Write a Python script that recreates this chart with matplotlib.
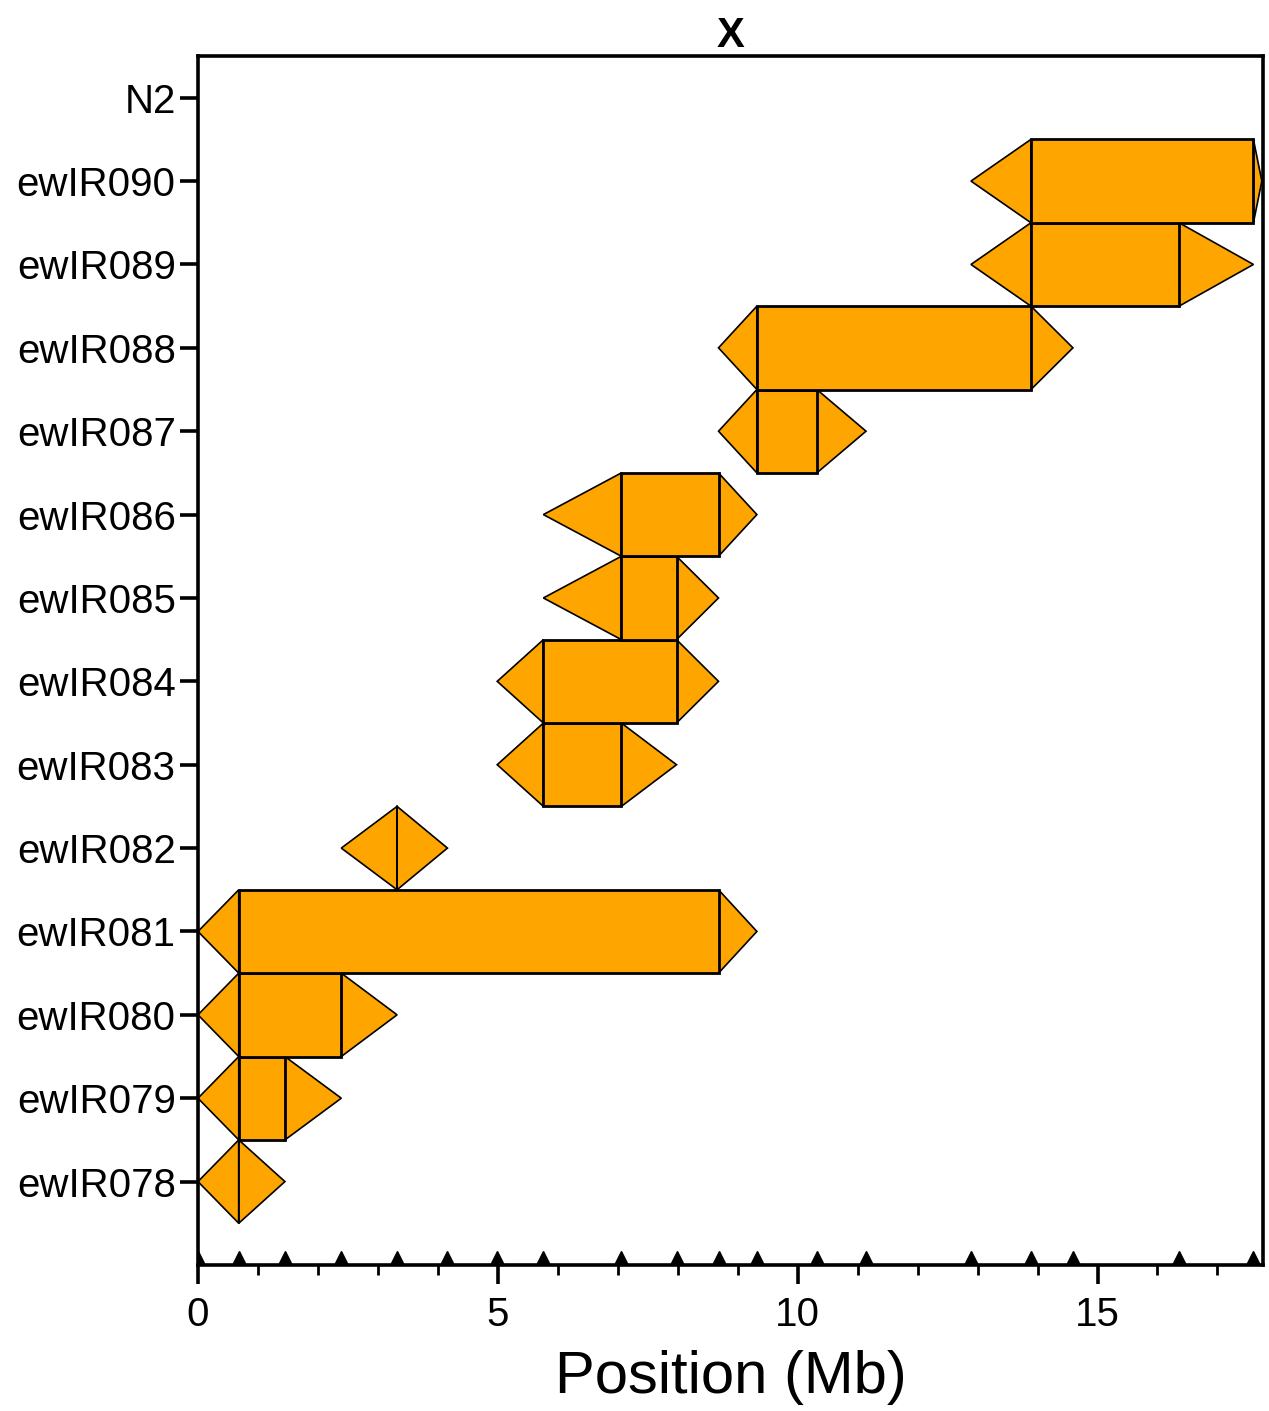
import matplotlib
matplotlib.use("Agg")
import matplotlib.pyplot as plt
from matplotlib.patches import Polygon
from matplotlib.ticker import MultipleLocator

plt.rcParams['font.family'] = ['Liberation Sans', 'DejaVu Sans']

# Introgression lines, bottom to top (N2 has no introgressed segment)
strains = ["ewIR078", "ewIR079", "ewIR080", "ewIR081", "ewIR082", "ewIR083",
           "ewIR084", "ewIR085", "ewIR086", "ewIR087", "ewIR088", "ewIR089",
           "ewIR090", "N2"]

# Segment bounds in Mb: outer-left, inner-left, inner-right, outer-right
outer_left  = [0.00, 0.00, 0.00, 0.00, 2.39, 4.99, 4.99, 5.76, 5.76, 8.68, 8.68, 12.89, 12.89, None]
inner_left  = [0.68, 0.68, 0.68, 0.68, 3.32, 5.76, 5.76, 7.06, 7.06, 9.32, 9.32, 13.89, 13.89, None]
inner_right = [0.68, 1.45, 2.39, 8.68, 3.32, 7.06, 7.98, 7.98, 8.68, 10.32, 13.89, 16.36, 17.60, None]
outer_right = [1.45, 2.39, 3.32, 9.32, 4.16, 7.98, 8.68, 8.68, 9.32, 11.14, 14.59, 17.60, 17.74, None]

# Genotyped marker positions (Mb)
markers = [0.00, 0.68, 1.45, 2.39, 3.32, 4.16, 4.99, 5.76, 7.06, 7.98, 8.68,
           9.32, 10.32, 11.14, 12.89, 13.89, 14.59, 16.36, 17.60]

chrom_end = 17.76
fill_color = "#FFA500"

fig = plt.figure(figsize=(12.69, 14.11), dpi=100)
ax = fig.add_axes([0.156, 0.1035, 0.8393, 0.8568])

half = 0.5
for y, (ol, il, ir, orr) in enumerate(zip(outer_left, inner_left, inner_right, outer_right)):
    if ol is None:
        continue
    # left flank triangle
    ax.add_patch(Polygon([(ol, y), (il, y + half), (il, y - half)], closed=True,
                         facecolor=fill_color, edgecolor="black", lw=1.2, zorder=2))
    # right flank triangle
    ax.add_patch(Polygon([(ir, y + half), (orr, y), (ir, y - half)], closed=True,
                         facecolor=fill_color, edgecolor="black", lw=1.2, zorder=2))
    # core interval
    if ir > il:
        ax.add_patch(Polygon([(il, y - half), (il, y + half), (ir, y + half), (ir, y - half)],
                             closed=True, facecolor=fill_color, edgecolor="black",
                             lw=2.0, zorder=3))
    else:
        ax.plot([il, il], [y - half, y + half], color="black", lw=1.2, zorder=3)

ax.set_xlim(0, chrom_end)
ax.set_ylim(-1, len(strains) - 0.5)

# marker ticks resting on the x axis
ax.plot(markers, [-1 + 0.075] * len(markers), linestyle="none", marker="^",
        markersize=11, color="black", zorder=4, clip_on=True)

ax.set_yticks(range(len(strains)))
ax.set_yticklabels(strains)
ax.xaxis.set_major_locator(MultipleLocator(5))
ax.xaxis.set_minor_locator(MultipleLocator(1))

for sp in ax.spines.values():
    sp.set_linewidth(2.6)

ax.tick_params(axis="y", which="major", direction="out", length=13, width=2.6,
               labelsize=29, pad=3)
ax.tick_params(axis="x", which="major", direction="out", length=14, width=2.6,
               labelsize=29, pad=8)
ax.tick_params(axis="x", which="minor", direction="out", length=7, width=2.0)

ax.set_xlabel("Position (Mb)", fontsize=43, labelpad=12)
ax.set_title("X", fontsize=30, fontweight="bold", pad=4)

fig.savefig("out.png", dpi=100)
